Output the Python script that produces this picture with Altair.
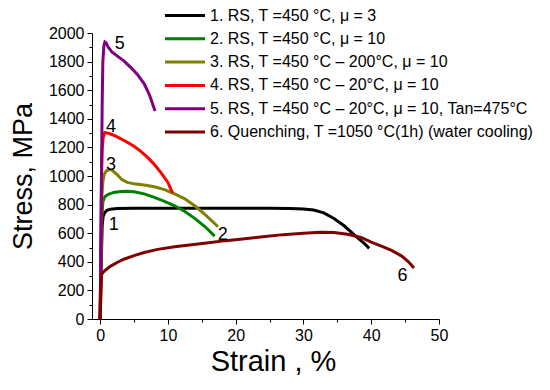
import altair as alt
import pandas as pd

names = [
    "1. RS, T =450 °C, μ = 3",
    "2. RS, T =450 °C, μ = 10",
    "3. RS, T =450 °C – 200°C, μ = 10",
    "4. RS, T =450 °C – 20°C, μ = 10",
    "5. RS, T =450 °C – 20°C, μ = 10, Tan=475°C",
    "6. Quenching, T =1050 °C(1h) (water cooling)",
]
colors = ["#000000", "#008000", "#808000", "#ff0000", "#800080", "#800000"]

s1_x = [0, 0.15, 0.3, 0.45, 0.7, 1.0, 1.5, 2.5, 5, 10, 15, 20, 25, 28, 30, 31.5, 33, 34.5, 36, 37.5, 39, 39.7]
s1_y = [0, 350, 650, 720, 745, 760, 768, 772, 774, 775, 775, 775, 774, 772, 769, 762, 742, 703, 652, 588, 528, 494]

s2_x = [0, 0.1, 0.25, 0.4, 0.7, 1.2, 2, 3, 4, 5, 6.5, 8, 9.5, 11, 12.5, 14, 15.5, 16.9]
s2_y = [0, 300, 700, 820, 855, 872, 885, 892, 893, 890, 875, 850, 822, 792, 752, 702, 645, 580]

s3_x = [0, 0.1, 0.25, 0.4, 0.6, 0.9, 1.3, 1.8, 2.5, 3.2, 4, 5, 6.5, 8, 9.5, 11, 12.5, 14, 15.5, 17.4]
s3_y = [0, 400, 850, 960, 1010, 1035, 1045, 1040, 1010, 975, 955, 945, 937, 925, 905, 875, 840, 790, 730, 645]

s4_x = [0, 0.1, 0.2, 0.3, 0.45, 0.7, 1.2, 2, 3, 4, 5, 6, 7, 8, 9, 10, 10.7]
s4_y = [0, 500, 1000, 1180, 1270, 1303, 1300, 1285, 1262, 1236, 1208, 1172, 1130, 1080, 1022, 955, 880]

s5_x = [0, 0.1, 0.2, 0.3, 0.4, 0.55, 0.7, 0.9, 1.2, 1.7, 2.5, 3.5, 4.5, 5.5, 6.5, 7.3, 8.1]
s5_y = [0, 400, 1000, 1500, 1800, 1910, 1937, 1930, 1900, 1870, 1840, 1805, 1760, 1710, 1645, 1565, 1455]

s6_x = [0, 0.1, 0.2, 0.5, 1, 1.5, 2.5, 3.5, 5, 6.5, 8.5, 11, 13.5, 16, 18.5, 21, 24, 27, 30, 32.5, 34.5, 36.5, 38.5, 40, 41.5, 43, 44.5, 45.5, 46.3]
s6_y = [0, 150, 310, 330, 350, 368, 395, 418, 443, 465, 487, 505, 520, 533, 548, 560, 575, 590, 600, 607, 605, 593, 570, 538, 510, 480, 440, 400, 357]

label_text = ["1", "2", "3", "4", "5", "6"]
label_x = [2.0, 18.1, 1.6, 1.6, 2.9, 44.6]
label_y = [659, 590, 1079, 1345, 1923, 298]

xs = [s1_x, s2_x, s3_x, s4_x, s5_x, s6_x]
ys = [s1_y, s2_y, s3_y, s4_y, s5_y, s6_y]

rows = []
for name, sx, sy in zip(names, xs, ys):
    for i, (a, b) in enumerate(zip(sx, sy)):
        rows.append({"series": name, "strain": a, "stress": b, "idx": i})
df = pd.DataFrame(rows)
lbl = pd.DataFrame({"strain": label_x, "stress": label_y, "t": label_text})

FONT = "Liberation Sans"

x_scale = alt.Scale(domain=[-1.2, 50], nice=False, zero=False)
y_scale = alt.Scale(domain=[0, 2000], nice=False)

x_axis = alt.Axis(
    values=list(range(0, 51, 5)), format="d",
    labelExpr="datum.value % 10 == 0 ? datum.label : ''",
    tickSize={"condition": {"test": "datum.value % 10 == 0", "value": 5}, "value": 3},
    labelOverlap=False, labelFlush=False, grid=False,
    labelFont=FONT, labelFontSize=16, labelColor="black", labelPadding=3,
    domainColor="black", tickColor="black",
    title="Strain , %", titleFont=FONT, titleFontSize=29, titleFontWeight="normal",
    titleColor="black", titlePadding=4, titleX=181,
)
y_axis = alt.Axis(
    values=list(range(0, 2001, 100)), format="d",
    labelExpr="datum.value % 200 == 0 ? datum.label : ''",
    tickSize={"condition": {"test": "datum.value % 200 == 0", "value": 5}, "value": 3},
    labelOverlap=False, labelFlush=False, grid=False,
    labelFont=FONT, labelFontSize=16, labelColor="black", labelPadding=3,
    domainColor="black", tickColor="black",
    title="Stress, MPa", titleFont=FONT, titleFontSize=27, titleFontWeight="normal",
    titleColor="black", titlePadding=10.5,
)

lines = alt.Chart(df).mark_line(strokeWidth=3).encode(
    x=alt.X("strain:Q", scale=x_scale, axis=x_axis),
    y=alt.Y("stress:Q", scale=y_scale, axis=y_axis),
    color=alt.Color(
        "series:N",
        scale=alt.Scale(domain=names, range=colors),
        legend=alt.Legend(
            orient="none", legendX=78, legendY=-32.5, title=None,
            symbolType="M-1.5,0H1.5", symbolSize=711, symbolStrokeWidth=3,
            labelFont=FONT, labelFontSize=16, labelColor="black",
            labelOffset=10, labelLimit=500, padding=0, rowPadding=0.3,
        ),
    ),
    order=alt.Order("idx:Q"),
)

labels = alt.Chart(lbl).mark_text(font=FONT, fontSize=18, color="black").encode(
    x=alt.X("strain:Q", scale=x_scale, axis=x_axis),
    y=alt.Y("stress:Q", scale=y_scale, axis=y_axis),
    text="t:N",
)

chart = alt.layer(lines, labels).properties(
    width=347, height=286, autosize="none",
    padding={"left": 84, "top": 25, "right": 103, "bottom": 57},
    background="white",
).configure_view(stroke=None)

chart.save("out.html", embed_options={"renderer": "svg", "actions": False})
